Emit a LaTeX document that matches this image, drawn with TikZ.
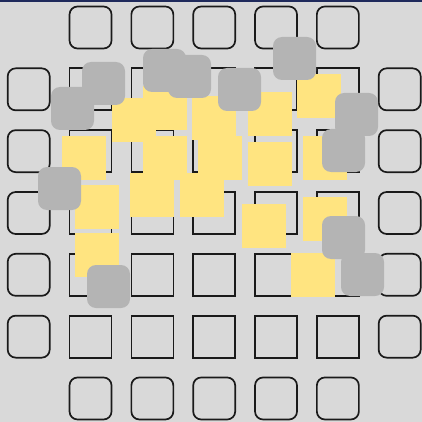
\documentclass[tikz,border=0pt]{standalone}
\definecolor{bg}{HTML}{D9D9D9}
\definecolor{yel}{HTML}{FFE480}
\definecolor{gry}{HTML}{B4B4B4}
\definecolor{navy}{HTML}{1F2A5C}
\definecolor{edge}{HTML}{1A1A1A}
\begin{document}
\begin{tikzpicture}[x=1pt,y=-1pt,
  cell/.style={draw=edge, line width=1.7pt, minimum size=42pt, inner sep=0pt, outer sep=0pt},
  ring/.style={cell, rounded corners=8pt},
  yl/.style={fill=yel, minimum size=44pt, inner sep=0pt, outer sep=0pt, anchor=north west},
  gr/.style={fill=gry, rounded corners=9pt, minimum size=43pt, inner sep=0pt, outer sep=0pt, anchor=north west}]
\fill[bg] (0,0) rectangle (422,422);
\useasboundingbox (0,0) rectangle (422,422);
\fill[navy] (0,0) rectangle (422,2.2);
% inner grid
\foreach \i in {1,...,5}{
  \foreach \j in {1,...,5}{
    \node[cell] (c\i\j) at ({28.7+61.83*\i},{27.5+61.83*\j}) {};
  }
}
% outer ring
\foreach \i in {1,...,5}{
  \node[ring] (t\i) at ({28.7+61.83*\i},27.5) {};
  \node[ring] (b\i) at ({28.7+61.83*\i},{27.5+61.83*6}) {};
  \node[ring] (l\i) at (28.7,{27.5+61.83*\i}) {};
  \node[ring] (r\i) at ({28.7+61.83*6},{27.5+61.83*\i}) {};
}
% yellow squares
\node[yl] (ya) at (62,136) {};
\node[yl] (yb) at (75,185) {};
\node[yl] (yc) at (75,233) {};
\node[yl] (yd) at (112,98) {};
\node[yl] (ye) at (143,86) {};
\node[yl] (yf) at (192,96) {};
\node[yl] (yg) at (143,136) {};
\node[yl] (yh) at (198,136) {};
\node[yl] (yi) at (130,173) {};
\node[yl] (yj) at (180,173) {};
\node[yl] (yk) at (248,92) {};
\node[yl] (yl) at (297,74) {};
\node[yl] (ym) at (248,142) {};
\node[yl] (yn) at (303,136) {};
\node[yl] (yo) at (242,204) {};
\node[yl] (yp) at (303,197) {};
\node[yl] (yq) at (291,253) {};
% gray rounded squares
\node[gr] (ga) at (82,62) {};
\node[gr] (gb) at (51,87) {};
\node[gr] (gc) at (143,49) {};
\node[gr] (gd) at (168,55) {};
\node[gr] (ge) at (38,167) {};
\node[gr] (gf) at (273,37) {};
\node[gr] (gg) at (218,68) {};
\node[gr] (gh) at (335,93) {};
\node[gr] (gi) at (322,129) {};
\node[gr] (gj) at (87,265) {};
\node[gr] (gk) at (322,216) {};
\node[gr] (gl) at (341,253) {};
\end{tikzpicture}
\end{document}
